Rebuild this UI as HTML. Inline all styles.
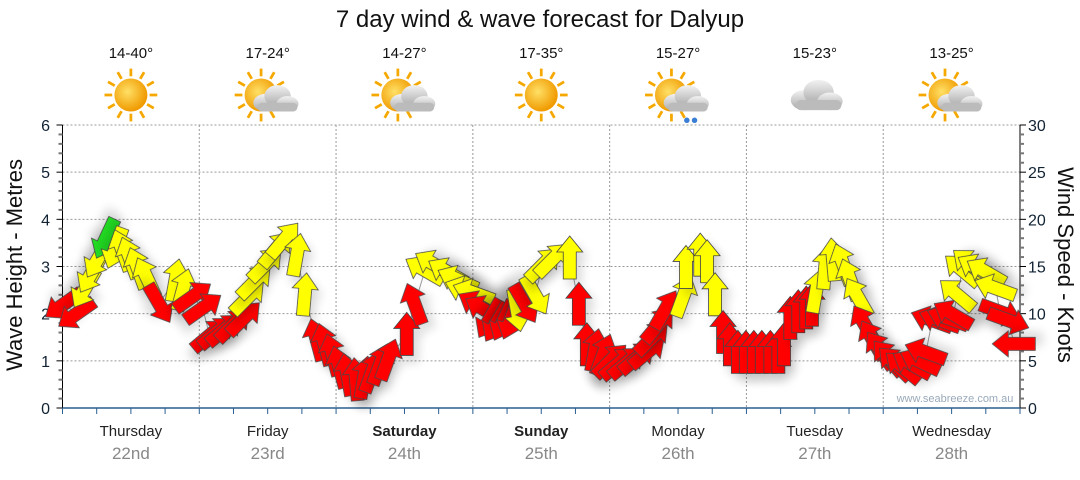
<!DOCTYPE html>
<html><head><meta charset="utf-8"><style>
body{margin:0;background:#fff;font-family:"Liberation Sans",sans-serif}
svg text{font-family:"Liberation Sans",sans-serif}
</style></head><body>
<svg id="chart" width="1080" height="475" viewBox="0 0 1080 475" xmlns="http://www.w3.org/2000/svg">
<defs>
<filter id="sh" x="-50%" y="-50%" width="200%" height="200%"><feGaussianBlur in="SourceAlpha" stdDeviation="5"/><feOffset dx="5" dy="7"/><feComponentTransfer><feFuncA type="linear" slope="0.15"/></feComponentTransfer><feMerge><feMergeNode/><feMergeNode in="SourceGraphic"/></feMerge></filter>
<radialGradient id="sun" cx="0.4" cy="0.4" r="0.6"><stop offset="0" stop-color="#ffe066"/><stop offset="1" stop-color="#f09a00"/></radialGradient>
<linearGradient id="cl" x1="0" y1="0" x2="0" y2="1"><stop offset="0" stop-color="#f2f2f2"/><stop offset="1" stop-color="#a8a8a8"/></linearGradient>
</defs>
<text x="540" y="27" text-anchor="middle" font-size="24" fill="#111">7 day wind &amp; wave forecast for Dalyup</text>
<g id="grid"></g>
<g id="axes"></g>
<g id="icons"></g>
<g id="series"></g>
<text x="955" y="402" text-anchor="middle" font-size="11" fill="#9aaabb">www.seabreeze.com.au</text>
<text transform="translate(22,265) rotate(-90)" text-anchor="middle" font-size="22" fill="#111">Wave Height - Metres</text>
<text transform="translate(1058,265) rotate(90)" text-anchor="middle" font-size="22" fill="#111">Wind Speed - Knots</text>
</svg>
<script>
const dayNames=["Thursday","Friday","Saturday","Sunday","Monday","Tuesday","Wednesday"];
const dayDates=["22nd","23rd","24th","25th","26th","27th","28th"];
const boldDays=[false,false,true,true,false,false,false];
const temps=["14-40°","17-24°","14-27°","17-35°","15-27°","15-23°","13-25°"];
const weather=["sun","suncloud","suncloud","sun","rain","cloud","suncloud"];
const waveTicks=[0,1,2,3,4,5,6];
const windTicks=[0,5,10,15,20,25,30];
const hours=[0.2,2.5,4.0,5.1,6.3,7.6,9.3,10.5,11.8,13.2,14.8,16.9,19.8,21.1,22.8,24.6,25.8,27.0,28.4,29.9,31.8,32.5,33.7,35.6,37.4,38.8,41.1,42.5,44.6,46.0,47.4,48.6,50.0,51.5,52.9,54.3,55.7,57.1,60.4,61.8,63.6,65.3,67.6,69.4,70.8,72.2,72.9,74.1,75.0,76.2,77.4,78.7,79.7,81.0,82.9,84.3,85.9,89.0,90.6,92.0,93.4,94.8,96.1,97.5,99.0,100.8,102.6,103.4,104.5,105.7,108.9,109.4,111.9,113.1,114.5,115.9,117.1,118.5,119.9,121.3,122.7,124.2,125.6,126.6,127.7,129.1,130.5,131.5,132.2,133.8,135.2,137.0,138.2,139.6,140.8,142.2,143.5,144.9,146.1,147.5,149.1,150.5,151.5,152.6,154.0,155.4,156.3,157.0,157.9,159.3,160.5,162.1,163.7,164.5,165.9,167.0];
const windSpeed=[11.0,10.0,12.7,14.3,15.9,18.0,17.0,16.7,15.9,14.8,13.8,11.1,13.5,12.5,11.8,10.6,7.7,8.0,8.3,8.8,9.5,11.7,13.4,15.2,16.8,17.8,16.2,12.0,7.2,6.7,5.6,4.3,3.5,3.0,3.2,3.8,4.6,5.1,7.8,11.0,14.6,15.2,14.4,13.6,12.5,12.2,10.9,10.4,9.5,9.1,9.3,9.5,10.4,11.1,12.0,15.2,15.7,15.9,11.0,6.7,6.1,5.6,5.0,4.7,4.8,5.3,5.9,7.4,8.8,10.4,11.8,14.9,16.2,15.5,12.0,8.0,6.7,5.9,5.9,5.9,5.9,5.9,5.9,6.7,9.5,10.2,10.6,10.9,12.3,14.8,15.7,15.2,13.6,11.7,8.8,7.2,6.1,5.3,4.7,4.3,4.6,4.9,5.9,9.3,9.3,9.5,9.9,12.0,14.6,15.2,14.8,14.4,12.7,10.2,9.3,6.8];
const windDir=[235,235,210,210,210,205,200,340,340,340,335,150,10,15,55,55,50,50,50,45,45,45,45,45,40,40,10,5,345,345,345,345,350,355,10,20,20,20,0,340,300,300,300,295,290,290,300,300,210,210,205,200,170,150,150,45,45,0,0,0,10,20,45,50,50,50,50,45,40,30,20,0,0,0,0,0,0,0,0,0,0,0,0,0,0,0,0,0,10,5,355,340,340,330,330,330,325,320,315,310,300,295,290,290,290,290,300,310,310,310,300,300,290,110,110,270];
const windLevel=["r","r","y","y","y","g","y","y","y","y","y","r","y","y","r","r","r","r","r","r","r","y","y","y","y","y","y","y","r","r","r","r","r","r","r","r","r","r","r","r","y","y","y","y","y","y","r","r","r","r","r","r","y","r","y","y","y","y","r","r","r","r","r","r","r","r","r","r","r","r","y","y","y","y","y","r","r","r","r","r","r","r","r","r","r","r","r","r","y","y","y","y","y","y","r","r","r","r","r","r","r","r","r","r","r","r","r","y","y","y","y","y","y","r","r","r"];
const NS="http://www.w3.org/2000/svg";
const X0=62.5,X1=1020,YT=125,YB=408;
const xH=h=>X0+h*(X1-X0)/168;
const yWave=m=>YB-m*(YB-YT)/6;
const yWind=k=>YB-k*(YB-YT)/30;
function mk(tag,attrs,parent){const e=document.createElementNS(NS,tag);for(const k in attrs)e.setAttribute(k,attrs[k]);parent.appendChild(e);return e;}
const grid=document.getElementById('grid'),axes=document.getElementById('axes'),icons=document.getElementById('icons'),series=document.getElementById('series');
waveTicks.forEach(v=>{if(v>0){const l=mk('line',{x1:X0,x2:X1,y1:yWave(v),y2:yWave(v),stroke:'#999','stroke-dasharray':'2,2','stroke-width':1},grid);

}});
for(let d=1;d<7;d++){const l=mk('line',{x1:xH(d*24),x2:xH(d*24),y1:YT,y2:YB,stroke:'#999','stroke-dasharray':'2,2','stroke-width':1},grid);

}
mk('line',{x1:X0,x2:X0,y1:YT,y2:YB,stroke:'#000'},axes);
mk('line',{x1:X1,x2:X1,y1:YT,y2:YB,stroke:'#000'},axes);
mk('line',{x1:X0,x2:X1,y1:YB,y2:YB,stroke:'#2a5f8f','stroke-width':1.5},axes);
for(let i=0;i<=30;i++){const v=i*0.2,y=yWave(v);const big=i%5==0;mk('line',{x1:X0-(big?6:4),x2:X0,y1:y,y2:y,stroke:big?'#000':'#777','stroke-width':big?1:2},axes);
 const yr=yWind(i);mk('line',{x1:X1,x2:X1+(i%5==0?6:4),y1:yr,y2:yr,stroke:i%5==0?'#000':'#777','stroke-width':i%5==0?1:2},axes);}
waveTicks.forEach(v=>{const t=mk('text',{x:50,y:yWave(v)+6,'text-anchor':'end','font-size':16,fill:'#112233'},axes);t.textContent=v;

});
windTicks.forEach(v=>{const t=mk('text',{x:1028,y:yWind(v)+6,'text-anchor':'start','font-size':16,fill:'#112233'},axes);t.textContent=v;

});
for(let q=0;q<=28;q++){const x=xH(q*6);mk('line',{x1:x,x2:x,y1:YB,y2:YB+6,stroke:'#2a5f8f'},axes);}
dayNames.forEach((n,i)=>{const cx=xH(i*24+12);
 const t=mk('text',{x:cx,y:436,'text-anchor':'middle','font-size':15,fill:'#222','font-weight':boldDays[i]?'bold':'normal'},axes);t.textContent=n;
 
 
 const d=mk('text',{x:cx,y:459,'text-anchor':'middle','font-size':17,fill:'#888'},axes);d.textContent=dayDates[i];
 
 
 const tt=mk('text',{x:cx,y:58,'text-anchor':'middle','font-size':15,fill:'#111'},icons);tt.textContent=temps[i];
 
 
 const g=mk('g',{transform:`translate(${cx},95) scale(1.1)`},icons);
 
 
 const w=weather[i];
 if(w!=='cloud'){const sx=w==='sun'?0:-6;
  for(let r=0;r<12;r++){const a=r*30*Math.PI/180;mk('line',{x1:sx+Math.cos(a)*17,y1:Math.sin(a)*17,x2:sx+Math.cos(a)*24,y2:Math.sin(a)*24,stroke:'#f5a800','stroke-width':2.5},g);}
  mk('circle',{cx:sx,cy:0,r:15,fill:'url(#sun)'},g);}
 if(w!=='sun'){const ox=w==='cloud'?0:6,oy=w==='cloud'?0:3,s=w==='cloud'?1.15:1;
  const cg=mk('g',{transform:`translate(${ox},${oy}) scale(${s})`},g);
  mk('ellipse',{cx:-8,cy:4,rx:11,ry:8,fill:'url(#cl)'},cg);
  mk('ellipse',{cx:3,cy:-2,rx:12,ry:10,fill:'url(#cl)'},cg);
  mk('ellipse',{cx:12,cy:5,rx:10,ry:7,fill:'url(#cl)'},cg);
  mk('rect',{x:-15,y:4,width:36,height:8,rx:4,fill:'#bbb'},cg);
  if(w==='rain'){mk('circle',{cx:2,cy:20,r:2.5,fill:'#3a7fd5'},cg);mk('circle',{cx:9,cy:20,r:2.5,fill:'#3a7fd5'},cg);}}
});
const pts=hours.map((h,i)=>xH(h)+','+yWind(windSpeed[i])).join(' ');
const pl=mk('polyline',{points:pts,fill:'none',stroke:'#999','stroke-width':1},series);


const colors={r:'#ff0000',y:'#ffff00',g:'#22dd22'};
const ap="0,-22 13,-6 6.5,-6 6.5,21 -6.5,21 -6.5,-6 -13,-6";
hours.forEach((h,i)=>{const x=xH(h),y=yWind(windSpeed[i]);
 const a=mk('polygon',{points:ap,transform:`translate(${x},${y}) rotate(${windDir[i]})`,fill:colors[windLevel[i]],stroke:'#444','stroke-width':0.8,filter:'url(#sh)'},series);
 
 
});
</script>
</body></html>
